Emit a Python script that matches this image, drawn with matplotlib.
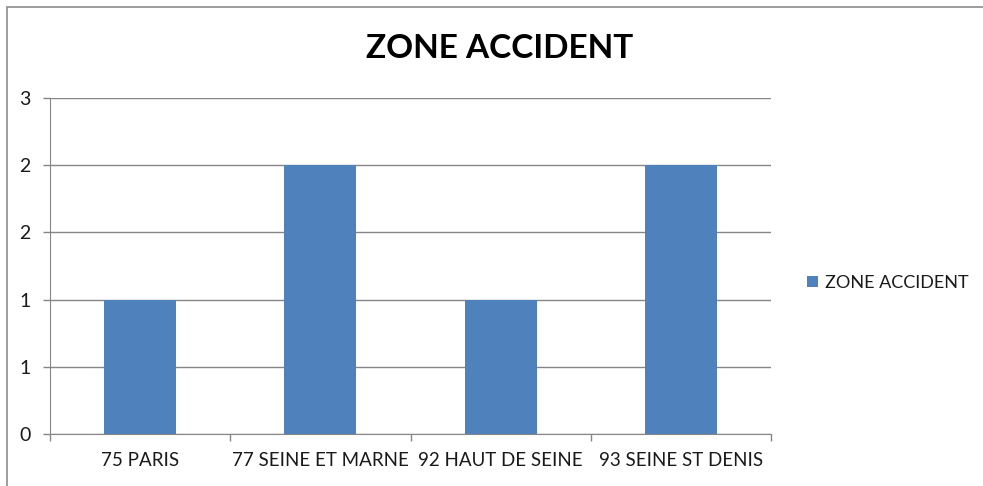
import matplotlib.pyplot as plt
from matplotlib.patches import Rectangle
from matplotlib.ticker import FixedLocator
import numpy as np

# data
categories = ['75 PARIS', '77 SEINE ET MARNE', '92 HAUT DE SEINE', '93 SEINE ST DENIS']
values = [1, 2, 1, 2]
y_ticks = [0, 0.5, 1.0, 1.5, 2.0, 2.5]
y_tick_labels = ['0', '1', '1', '2', '2', '3']
series_name = 'ZONE ACCIDENT'

plt.rcParams['font.family'] = ['Lato', 'DejaVu Sans']
bar_color = '#4F81BD'
grid_color = '#868686'
text_color = '#1a1a1a'

fig = plt.figure(figsize=(9.83, 4.86), dpi=100)
ax = fig.add_axes([50/983, 52/486, 721/983, 336/486])

x = np.arange(len(categories))
ax.bar(x, values, width=0.4, color=bar_color, label=series_name, zorder=3)

ax.set_xlim(-0.5, len(categories) - 0.5)
ax.set_ylim(0, 2.5)
ax.set_yticks(y_ticks)
ax.set_yticklabels(y_tick_labels)
ax.yaxis.grid(True, color=grid_color, linewidth=1, zorder=0)

# category labels at centres, tick marks between categories
ax.set_xticks(x)
ax.set_xticklabels(categories)
ax.tick_params(axis='x', length=0, pad=13, labelsize=13.5, labelcolor=text_color)
ax.xaxis.set_minor_locator(FixedLocator(np.arange(-0.5, len(categories), 1.0)))
ax.tick_params(axis='x', which='minor', length=5, color=grid_color, width=1)
ax.tick_params(axis='y', length=5, color=grid_color, width=1, pad=9,
               labelsize=14, labelcolor=text_color)

for side in ['top', 'right']:
    ax.spines[side].set_visible(False)
ax.spines['left'].set_color(grid_color)
ax.spines['bottom'].set_color(grid_color)

fig.text(500/983, 1 - 48/486, 'ZONE ACCIDENT', ha='center', va='center',
         fontsize=24, fontweight='bold', color='black')

leg = ax.legend(loc='center left', bbox_to_anchor=((807 - 50)/721, (434 - 283)/336),
                frameon=False, fontsize=13, handlelength=0.6, handleheight=0.6,
                handletextpad=0.4, borderpad=0, borderaxespad=0)
for t in leg.get_texts():
    t.set_color(text_color)

# outer chart border
fig.add_artist(Rectangle((6.5/983, -0.1), 1.1, 1 - 6.5/486 + 0.1,
                         transform=fig.transFigure, fill=False,
                         edgecolor='#8c8c8c', linewidth=1.2))

fig.savefig('out.png', dpi=100)
